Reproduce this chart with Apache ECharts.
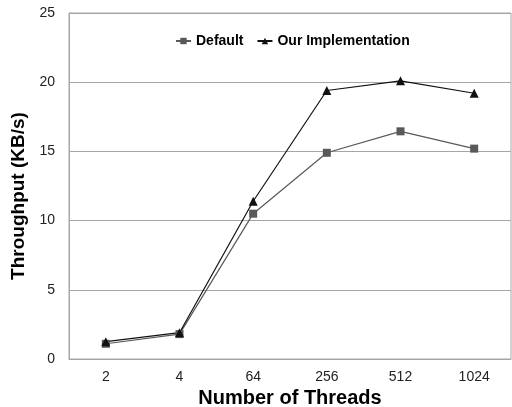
<!DOCTYPE html>
<html>
<head>
<meta charset="utf-8">
<script src="https://cdn.jsdelivr.net/npm/echarts@6/dist/echarts.min.js"></script>
<style>
html, body { margin: 0; padding: 0; background: #fff; }
#chart { width: 512px; height: 407px; }
</style>
</head>
<body>
<div id="chart"></div>
<script>
var threads = ['2', '4', '64', '256', '512', '1024'];
var defaultData = [1.1, 1.8, 10.5, 14.9, 16.45, 15.2];
var oursData = [1.25, 1.9, 11.4, 19.4, 20.1, 19.2];

var chart = echarts.init(document.getElementById('chart'));
chart.setOption({
    animation: false,
    grid: {
        left: 69,
        right: 1,
        top: 13,
        bottom: 48,
        outerBoundsMode: 'none',
        containLabel: false,
        show: true,
        borderColor: '#a6a6a6',
        borderWidth: 1
    },
    legend: {
        top: 29,
        left: 170,
        itemGap: 13,
        itemWidth: 15,
        itemHeight: 8,
        textStyle: {fontFamily: 'Liberation Sans', fontWeight: 'bold', fontSize: 14, color: '#000'},
        data: ['Default', 'Our Implementation']
    },
    xAxis: {
        type: 'category',
        data: threads,
        name: 'Number of Threads',
        nameLocation: 'middle',
        nameGap: 26,
        nameTextStyle: {fontFamily: 'Liberation Sans', fontWeight: 'bold', fontSize: 20, color: '#000'},
        axisLine: {lineStyle: {color: '#a6a6a6'}},
        axisTick: {show: false},
        axisLabel: {fontFamily: 'Liberation Sans', fontSize: 14, color: '#222', margin: 11}
    },
    yAxis: {
        type: 'value',
        min: 0,
        max: 25,
        interval: 5,
        name: 'Throughput (KB/s)',
        nameLocation: 'middle',
        nameGap: 28,
        nameTextStyle: {fontFamily: 'Liberation Sans', fontWeight: 'bold', fontSize: 19, color: '#000', padding: [0, 20, 0, 0]},
        axisLine: {show: true, lineStyle: {color: '#a6a6a6'}},
        axisTick: {show: false},
        axisLabel: {fontFamily: 'Liberation Sans', fontSize: 14, color: '#222', margin: 14},
        splitLine: {lineStyle: {color: '#a6a6a6'}}
    },
    series: [{
        name: 'Default',
        type: 'line',
        data: defaultData,
        symbol: 'rect',
        symbolSize: 8,
        color: '#595959',
        lineStyle: {width: 1.2, color: '#595959'},
        itemStyle: {color: '#595959'}
    }, {
        name: 'Our Implementation',
        type: 'line',
        data: oursData,
        symbol: 'triangle',
        symbolSize: 9,
        color: '#111',
        lineStyle: {width: 1.2, color: '#111'},
        itemStyle: {color: '#111'}
    }]
});
</script>
</body>
</html>
